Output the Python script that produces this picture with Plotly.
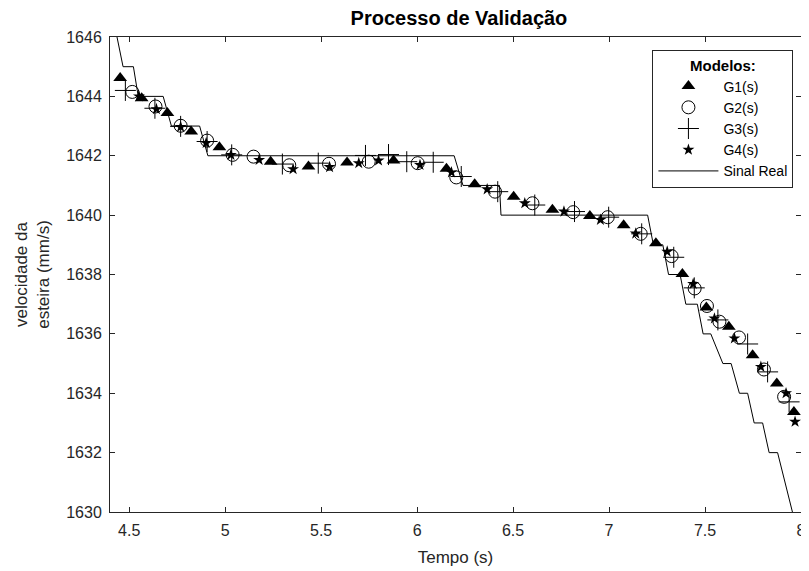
import plotly.graph_objects as go

# ---- Data ----
# Real signal (Sinal Real) - staircase vertices
real_t = [4.405, 4.468, 4.522, 4.547, 4.677, 4.720, 4.867, 4.910, 6.193, 6.239,
          6.429, 6.437, 7.201, 7.231, 7.280, 7.310, 7.370, 7.400, 7.460, 7.490,
          7.530, 7.593, 7.636, 7.679, 7.722, 7.756, 7.800, 7.834, 7.878, 7.916,
          7.955, 7.994]
real_v = [1647, 1645, 1645, 1644, 1644, 1643, 1643, 1642, 1642, 1641,
          1641, 1640, 1640, 1639, 1639, 1638, 1638, 1637, 1637, 1636,
          1636, 1635, 1635, 1634, 1634, 1633, 1633, 1632, 1632, 1631,
          1630, 1629]

g1_t = [4.453, 4.565, 4.699, 4.823, 4.970, 5.237, 5.434, 5.635, 5.877, 6.153,
        6.300, 6.503, 6.705, 6.900, 7.076, 7.244, 7.382, 7.507, 7.624, 7.748,
        7.874, 7.963]
g1_v = [1644.62, 1643.94, 1643.44, 1642.82, 1642.29, 1641.80, 1641.64, 1641.77, 1641.84, 1641.56,
        1641.04, 1640.62, 1640.18, 1639.97, 1639.66, 1639.05, 1638.02, 1636.89, 1636.24, 1635.28,
        1634.33, 1633.37]

g2_t = [4.516, 4.637, 4.768, 4.906, 5.039, 5.148, 5.334, 5.541, 5.748, 6.003,
        6.204, 6.406, 6.601, 6.813, 6.993, 7.165, 7.326, 7.446, 7.510, 7.575,
        7.677, 7.807, 7.912]
g2_v = [1644.15, 1643.66, 1643.01, 1642.51, 1642.03, 1641.97, 1641.68, 1641.73, 1641.80, 1641.75,
        1641.27, 1640.79, 1640.40, 1640.10, 1639.93, 1639.37, 1638.62, 1637.53, 1636.94, 1636.41,
        1635.88, 1634.80, 1633.88]

g3_t = [4.480, 4.634, 4.768, 4.906, 5.034, 5.298, 5.485, 5.731, 5.851, 5.946,
        6.084, 6.230, 6.420, 6.613, 6.820, 6.998, 7.170, 7.337, 7.444, 7.567,
        7.722, 7.826, 7.938]
g3_v = [1644.20, 1643.60, 1642.99, 1642.48, 1642.03, 1641.72, 1641.75, 1642.01, 1642.04, 1641.80,
        1641.78, 1641.30, 1640.79, 1640.34, 1640.12, 1639.93, 1639.37, 1638.58, 1637.55, 1636.47,
        1635.66, 1634.72, 1633.71]

g4_t = [4.551, 4.642, 4.768, 4.901, 5.030, 5.177, 5.354, 5.544, 5.696, 5.799,
        6.015, 6.179, 6.365, 6.561, 6.765, 6.955, 7.139, 7.303, 7.438, 7.549,
        7.653, 7.791, 7.922, 7.969]
g4_v = [1644.00, 1643.57, 1642.97, 1642.43, 1642.03, 1641.86, 1641.55, 1641.62, 1641.75, 1641.84,
        1641.69, 1641.44, 1640.87, 1640.40, 1640.12, 1639.84, 1639.38, 1638.77, 1637.68, 1636.52,
        1635.85, 1634.89, 1634.00, 1633.04]

x_ticks = [4.5, 5, 5.5, 6, 6.5, 7, 7.5, 8]
x_tick_labels = ["4.5", "5", "5.5", "6", "6.5", "7", "7.5", "8"]
y_ticks = [1630, 1632, 1634, 1636, 1638, 1640, 1642, 1644, 1646]

AX = "#262626"
FONT = "Liberation Sans, Arial, Helvetica, sans-serif"

fig = go.Figure()
fig.add_trace(go.Scatter(x=g1_t, y=g1_v, mode="markers", name="G1(s)",
                         marker=dict(symbol="triangle-up", size=12, color="black")))
fig.add_trace(go.Scatter(x=g2_t, y=g2_v, mode="markers", name="G2(s)",
                         marker=dict(symbol="circle-open", size=13, color="black",
                                     line=dict(width=1, color="black"))))
fig.add_trace(go.Scatter(x=g3_t, y=g3_v, mode="markers", name="G3(s)",
                         marker=dict(symbol="cross-thin-open", size=15, color="black",
                                     line=dict(width=1, color="black"))))
fig.add_trace(go.Scatter(x=g4_t, y=g4_v, mode="markers", name="G4(s)",
                         marker=dict(symbol="star", size=9, color="black",
                                     line=dict(width=0))))
fig.add_trace(go.Scatter(x=real_t, y=real_v, mode="lines", name="Sinal Real",
                         line=dict(color="black", width=1)))

fig.update_layout(
    width=801, height=563,
    margin=dict(l=102, r=3, t=29, b=59),
    paper_bgcolor="white", plot_bgcolor="white",
    font=dict(family=FONT, color=AX, size=15),
    title=dict(text="<b>Processo de Validação</b>", x=0.563, xanchor="center",
               xref="container", yref="container",
               y=0.982, yanchor="middle",
               font=dict(family=FONT, size=20, color="black")),
    showlegend=True,
    legend=dict(
        x=0.785, xanchor="left", y=0.9726, yanchor="top",
        bgcolor="white", bordercolor=AX, borderwidth=1,
        font=dict(family=FONT, size=14, color="black"),
        title=dict(text="<b>Modelos:</b>", side="top center",
                   font=dict(family=FONT, size=15, color="black")),
        itemwidth=60, tracegroupgap=0,
    ),
    xaxis=dict(
        range=[4.4, 8.0], tickvals=x_ticks, ticktext=x_tick_labels,
        showgrid=False, zeroline=False,
        showline=True, linecolor=AX, linewidth=1, mirror="ticks",
        ticks="inside", ticklen=5, tickcolor=AX, tickwidth=1,
        ticklabelstandoff=4, ticklabeloverflow="allow",
        tickfont=dict(family=FONT, size=16, color=AX),
        title=dict(text="Tempo (s)", standoff=12,
                   font=dict(family=FONT, size=17, color=AX)),
    ),
    yaxis=dict(
        range=[1630, 1646], tickvals=y_ticks,
        showgrid=False, zeroline=False,
        showline=True, linecolor=AX, linewidth=1, mirror="ticks",
        ticks="inside", ticklen=5, tickcolor=AX, tickwidth=1,
        ticklabelstandoff=4,
        tickfont=dict(family=FONT, size=16, color=AX),
        title=dict(text="velocidade da<br>esteira (mm/s)", standoff=12,
                   font=dict(family=FONT, size=17, color=AX)),
    ),
)

fig.write_html("out.html")
